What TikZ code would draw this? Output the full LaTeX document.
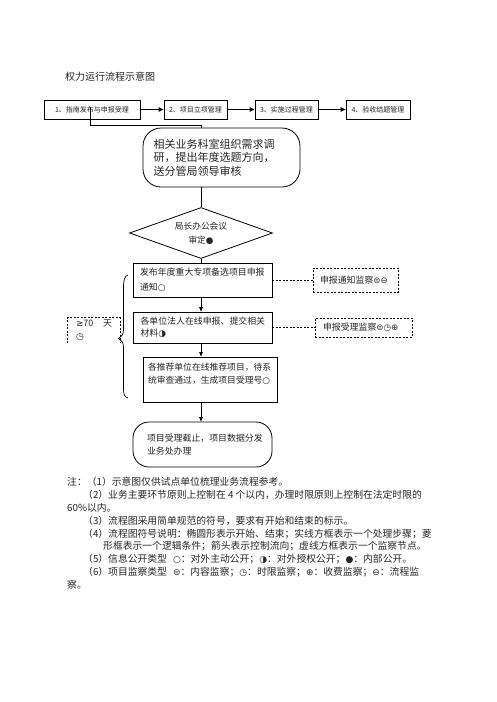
\documentclass[tikz,border=0pt]{standalone}
\usepackage{fontspec}
\setmainfont{Noto Sans CJK SC}
\newfontfamily\sym{DejaVu Sans}
\usetikzlibrary{arrows.meta,shapes.geometric}
\newcommand\fsz[2]{\fontsize{#1}{#2}\selectfont}
\begin{document}
\begin{tikzpicture}[x=1pt,y=-1pt,
  every node/.style={text=black!85},
  topbox/.style={draw=black,line width=0.9pt,inner sep=0pt,minimum height=19,font=\fsz{7}{9}},
  box/.style={draw=black,line width=0.8pt,inner sep=0pt,align=left},
  chain/.style={line width=0.8pt},
  arr/.style={line width=0.8pt,-{Triangle[length=4.5pt,width=3.5pt]}},
  toparr/.style={line width=1.4pt,-{Triangle[length=5pt,width=4.5pt]}},
  dbox/.style={draw=black,line width=0.8pt,dash pattern=on 2pt off 1.5pt,inner sep=0pt,align=left},
  dline/.style={line width=0.7pt,dash pattern=on 2pt off 1.5pt},
  note/.style={anchor=base west,inner sep=0pt,font=\fsz{9.8}{12}}]
\fill[white] (0,0) rectangle (496,702);
\useasboundingbox (0,0) rectangle (496,702);

\node[anchor=west,inner sep=0pt,font=\fsz{10}{12}] (title) at (65,77) {权力运行流程示意图};

\node[topbox,minimum width=96] (b1) at (92,109.5) {1、指南发布与申报受理};
\node[topbox,minimum width=63] (b2) at (195.5,109.5) {2、项目立项管理};
\node[topbox,minimum width=63] (b3) at (286.5,109.5) {3、实施过程管理};
\node[topbox,minimum width=64] (b4) at (378,109.5) {4、验收结题管理};
\draw[toparr] (b1) -- (b2);
\draw[toparr] (b2) -- (b3);
\draw[toparr] (b3) -- (b4);

\node[box,rounded corners=18,minimum width=157,minimum height=59,text width=136,font=\fsz{11}{13.5}] (start) at (221.5,157.5) {相关业务科室组织需求调\\研，提出年度选题方向，\\送分管局领导审核};
\coordinate (k1) at (90,107);
\coordinate (k2) at (201,125);
\draw[chain] (k1) |- (k2) -- (k2 |- start.north);

\node[draw=black,line width=0.8pt,diamond,aspect=2.8,minimum width=143,minimum height=51,inner sep=0pt,align=center,font=\fsz{8.7}{14}] (dia) at (201,233) {局长办公会议\\审定{\sym ●}};
\draw[chain] (dia.north |- start.south) -- (dia.north);

\node[box,minimum width=139,minimum height=34,text width=125,font=\fsz{8.9}{14.5}] (A) at (202.5,280) {发布年度重大专项备选项目申报\\通知{\sym ○}};
\draw[chain] (dia.south) -- (dia.south |- A.north);

\node[box,minimum width=139,minimum height=31,text width=124,font=\fsz{8.9}{12.5}] (B) at (202.5,327.5) {各单位法人在线申报、提交相关\\材料{\sym ◑}};
\draw[arr] (A.south -| dia.south) -- (B.north -| dia.south);

\node[box,minimum width=134,minimum height=45,text width=124,font=\fsz{8.8}{12.5}] (C) at (210,379.5) {各推荐单位在线推荐项目，待系\\统审查通过，生成项目受理号{\sym ○}\\\mbox{}};
\draw[arr] (B.south -| dia.south) -- (C.north -| dia.south);

\node[box,rounded corners=16,minimum width=139,minimum height=45,text width=111,font=\fsz{8.9}{13}] (E) at (202.5,444.5) {项目受理截止，项目数据分发\\业务处办理};
\draw[arr] (C.south -| dia.south) -- (E.north -| dia.south);

\node[dbox,minimum width=85,minimum height=24,text width=71,font=\fsz{8.9}{12}] (D1) at (355.5,280) {申报通知监察{\sym\fsz{8.6}{12}⊜⊖}};
\draw[dline] (A.east) -- (D1.west);

\node[dbox,minimum width=97,minimum height=19,text width=81,font=\fsz{8.9}{12}] (D2) at (363.5,327.5) {申报受理监察{\sym\fsz{8.6}{12}⊜◷⊕}};
\draw[dline] (B.east) -- (D2.west);

\begin{scope}
\clip (60,310) rectangle (130,343.5);
\node[inner sep=0pt,minimum width=52,minimum height=25,text width=36,align=left,font=\fsz{8.9}{13}] (D3) at (94,330.5) {{\sym ≥}70\hfill 天\\{\sym\fsz{9}{12}◷}};
\end{scope}
\draw[dline] (D3.south west) |- (D3.north east) -- (D3.south east);

\draw[line width=0.7pt] (128,275) .. controls (124.5,276) and (123.5,280) .. (123.5,288) -- (123.5,330) .. controls (123.5,335) and (121,337) .. (118.5,338.5) .. controls (121,340) and (123.5,342) .. (123.5,347) -- (123.5,388) .. controls (123.5,395) and (124.5,397) .. (128,398);

\node[note] (n1) at (67,485.5) {注：（1）示意图仅供试点单位梳理业务流程参考。};
\node[note] (n2) at (83,498.4) {（2）业务主要环节原则上控制在 4 个以内，办理时限原则上控制在法定时限的};
\node[note] (n3) at (67,511.3) {60\%以内。};
\node[note] (n4) at (83,524.1) {（3）流程图采用简单规范的符号，要求有开始和结束的标示。};
\node[note] (n5) at (83,537) {（4）流程图符号说明：椭圆形表示开始、结束；实线方框表示一个处理步骤；菱};
\node[note] (n6) at (103,549.9) {形框表示一个逻辑条件；箭头表示控制流向；虚线方框表示一个监察节点。};
\node[note] (n7) at (83,562.8) {（5）信息公开类型\hspace{6pt}{\sym\fsz{9}{12}○}：对外主动公开；{\sym\fsz{9}{12}◑}：对外授权公开；{\sym\fsz{9}{12}●}：内部公开。};
\node[note] (n8) at (83,575.6) {（6）项目监察类型\hspace{6pt}{\sym\fsz{9}{12}⊜}：内容监察；{\sym\fsz{9}{12}◷}：时限监察；{\sym\fsz{9}{12}⊕}：收费监察；{\sym\fsz{9}{12}⊖}：流程监};
\node[note] (n9) at (67,588.5) {察。};
\end{tikzpicture}
\end{document}
